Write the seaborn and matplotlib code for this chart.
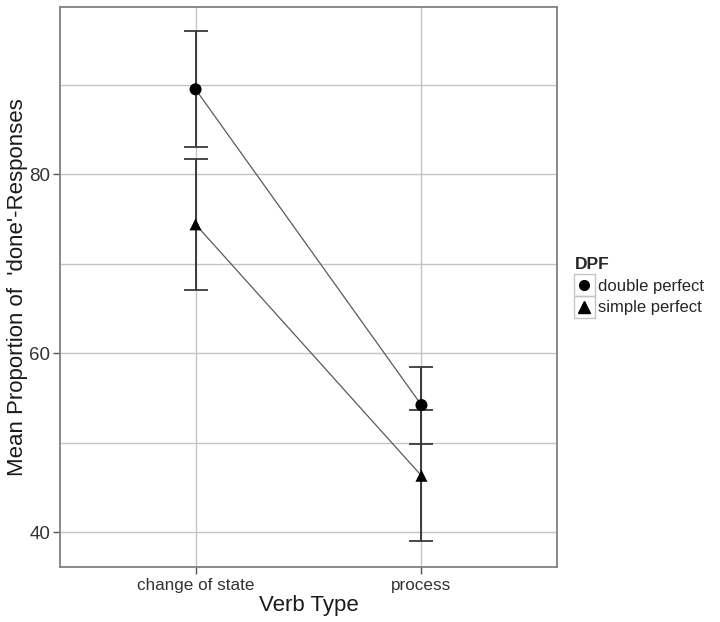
import matplotlib

matplotlib.use("Agg")
import matplotlib.pyplot as plt
import pandas as pd
import seaborn as sns
from matplotlib.lines import Line2D
from matplotlib.patches import Rectangle

verb_types = ["change of state", "process"]
dpf_levels = ["double perfect", "simple perfect"]
double_mean = [89.5, 54.2]
double_err = [6.5, 4.3]
simple_mean = [74.4, 46.3]
simple_err = [7.3, 7.3]
y_ticks = [40, 60, 80]
y_minor = [50, 70, 90]

df = pd.DataFrame({
    "verb": verb_types * 2,
    "dpf": [dpf_levels[0]] * 2 + [dpf_levels[1]] * 2,
    "mean": double_mean + simple_mean,
    "err": double_err + simple_err,
})
df["pos"] = df["verb"].map({v: i for i, v in enumerate(verb_types)})

sns.set_style("white")
plt.rcParams["font.family"] = ["Liberation Sans", "DejaVu Sans"]

fig = plt.figure(figsize=(7.2, 6.22), dpi=100)
ax = fig.add_axes([60 / 720, 1 - 567 / 622, 497 / 720, 560 / 622])

# gridlines first so marks sit on top
grid_col = "#c4c4c4"
for y in y_ticks + y_minor:
    ax.axhline(y, color=grid_col, lw=1.0, zorder=0)
for x in range(len(verb_types)):
    ax.axvline(x, color=grid_col, lw=1.0, zorder=0)

# error bars
for _, row in df.iterrows():
    ax.errorbar(row["pos"], row["mean"], yerr=row["err"], fmt="none",
                ecolor="#3a3a3a", elinewidth=1.4, capsize=8.5, capthick=1.3, zorder=2)

# connecting lines
sns.lineplot(data=df, x="pos", y="mean", hue="dpf",
             palette=["#5a5a5a", "#5a5a5a"], linewidth=0.9,
             legend=False, ax=ax, zorder=3)

# points
sns.scatterplot(data=df, x="pos", y="mean", style="dpf",
                markers={"double perfect": "o", "simple perfect": "^"},
                color="black", s=75, edgecolor="none", legend=False,
                ax=ax, zorder=4)

ax.set_xlim(-0.6, 1.6)
ax.set_ylim(36.1, 98.7)
ax.set_xticks(range(len(verb_types)))
ax.set_xticklabels(verb_types)
ax.set_yticks(y_ticks)
ax.tick_params(axis="both", which="major", length=5, width=1.0,
               color="#555555", labelcolor="#333333",
               bottom=True, left=True, pad=3)
ax.tick_params(axis="x", labelsize=12.3)
ax.tick_params(axis="y", labelsize=13.5, pad=2)
ax.set_xlabel("Verb Type", fontsize=16, color="#1a1a1a", labelpad=1)
ax.set_ylabel("Mean Proportion of  'done'-Responses", fontsize=16,
              color="#1a1a1a", labelpad=1)
for s in ax.spines.values():
    s.set_color("#808080")
    s.set_linewidth(1.3)

# legend
handles = [
    Line2D([], [], marker="o", color="black", linestyle="none", markersize=7),
    Line2D([], [], marker="^", color="black", linestyle="none", markersize=8),
]
leg = ax.legend(handles, dpf_levels, title="DPF", loc="upper left",
                bbox_to_anchor=(575 / 720, 1 - 257 / 622),
                bbox_transform=fig.transFigure, frameon=False,
                handlelength=1.1, handletextpad=0.3, labelspacing=0.4,
                fontsize=12, borderaxespad=0, borderpad=0)
leg.get_title().set_fontweight("bold")
leg.get_title().set_fontsize(12.5)
leg._legend_box.align = "left"

fig.canvas.draw()
renderer = fig.canvas.get_renderer()
inv = fig.transFigure.inverted()
for h in leg.legend_handles:
    bb = h.get_window_extent(renderer)
    cx, cy = (bb.x0 + bb.x1) / 2, (bb.y0 + bb.y1) / 2
    (x0, y0) = inv.transform((cx - 10.5, cy - 11))
    (x1, y1) = inv.transform((cx + 10.5, cy + 11))
    fig.patches.append(Rectangle((x0, y0), x1 - x0, y1 - y0, fill=False,
                                 edgecolor="#c4c4c4", lw=1.0,
                                 transform=fig.transFigure, figure=fig))

fig.savefig("out.png", dpi=100)
